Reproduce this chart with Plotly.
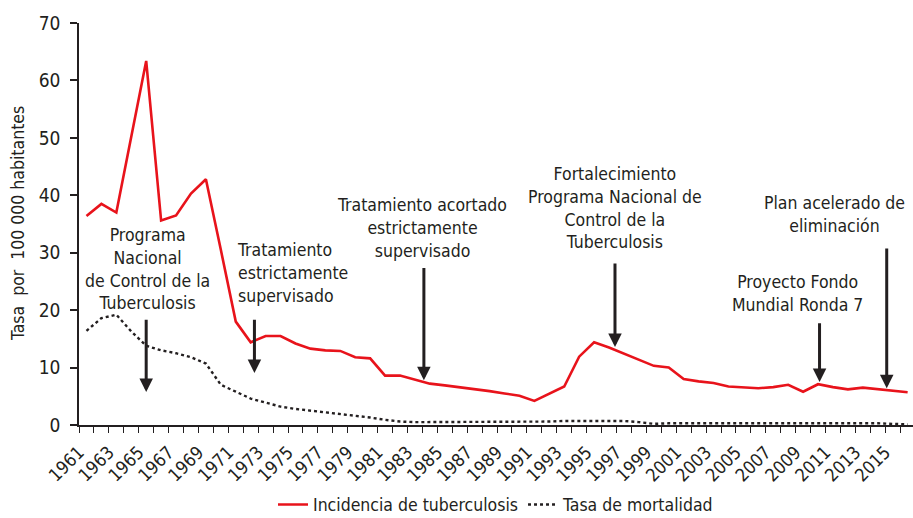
import plotly.graph_objects as go

years = list(range(1961, 2017))
incidencia = [36.4, 38.5, 37.0, 50.0, 63.4, 35.6, 36.5, 40.3, 42.8, 30.5,
              18.0, 14.4, 15.5, 15.5, 14.2, 13.3, 13.0, 12.9, 11.8, 11.6,
              8.6, 8.6, 7.9, 7.2, 6.9, 6.6, 6.3, 5.9, 5.5, 5.1,
              4.2, 5.4, 6.7, 11.9, 14.4, 13.5, 12.4, 11.3, 10.3, 10.0,
              8.0, 7.6, 7.3, 6.7, 6.5, 6.4, 6.6, 7.0, 5.8, 7.1,
              6.6, 6.2, 6.5, 6.2, 5.9, 5.7]
mortalidad = [16.4, 18.6, 19.2, 16.3, 13.8, 13.0, 12.5, 11.8, 10.7, 7.0,
              5.8, 4.6, 3.9, 3.2, 2.8, 2.5, 2.3, 2.0, 1.7, 1.3,
              0.9, 0.6, 0.5, 0.5, 0.5, 0.5, 0.5, 0.5, 0.5, 0.5,
              0.5, 0.6, 0.7, 0.7, 0.7, 0.7, 0.7, 0.5, 0.2, 0.3,
              0.3, 0.3, 0.3, 0.3, 0.3, 0.3, 0.3, 0.4, 0.4, 0.4,
              0.4, 0.4, 0.4, 0.3, 0.2, 0.1]
tick_years = list(range(1961, 2016, 2))
y_ticks = [0, 10, 20, 30, 40, 50, 60, 70]

# events: label text, text centre (year, value), arrow (year, tip value, tail value), text alignment
event_texts = ["Programa<br>Nacional<br>de Control de la<br>Tuberculosis",
               "Tratamiento<br>estrictamente<br>supervisado",
               "Tratamiento acortado<br>estrictamente<br>supervisado",
               "Fortalecimiento<br>Programa Nacional de<br>Control de la<br>Tuberculosis",
               "Proyecto Fondo<br>Mundial Ronda 7",
               "Plan acelerado de<br>eliminación"]
event_text_x = [1965.1, 1970.95, 1983.45, 1996.4, 2008.6, 2011.1]
event_text_y = [27.2, 26.5, 34.3, 37.8, 22.9, 36.6]
event_align = ["center", "left", "center", "center", "center", "center"]
arrow_x = [1965.0, 1972.25, 1983.6, 1996.4, 2010.1, 2014.6]
arrow_tip = [5.75, 9.05, 7.8, 13.6, 7.5, 6.4]
arrow_tail = [18.6, 18.6, 27.6, 28.4, 18.0, 31.0]

FONT = "Liberation Sans Narrow, Arial Narrow, DejaVu Sans Condensed, sans-serif"
INK = "#231f20"

fig = go.Figure()
fig.add_trace(go.Scatter(x=years, y=incidencia, mode="lines",
                         name="Incidencia de tuberculosis",
                         line=dict(color="#e8131b", width=2.6)))
fig.add_trace(go.Scatter(x=years, y=mortalidad, mode="lines",
                         name="Tasa de mortalidad",
                         line=dict(color=INK, width=2.4, dash="dot")))

annotations = []
for t, tx, ty, al in zip(event_texts, event_text_x, event_text_y, event_align):
    annotations.append(dict(x=tx, y=ty, xref="x", yref="y", text=t, showarrow=False,
                            xanchor="left" if al == "left" else "center",
                            yanchor="middle", align=al,
                            font=dict(family=FONT, size=17.5, color=INK)))
for ax_, tip, tail in zip(arrow_x, arrow_tip, arrow_tail):
    annotations.append(dict(x=ax_, y=tip, ax=ax_, ay=tail, xref="x", yref="y",
                            axref="x", ayref="y", text="", showarrow=True,
                            arrowhead=2, arrowsize=0.9, arrowwidth=3,
                            arrowcolor=INK))
annotations.append(dict(x=-0.0731, y=0.5, xref="paper", yref="paper",
                        text="Tasa  por  100 000 habitantes", textangle=-90,
                        showarrow=False, xanchor="center", yanchor="middle",
                        font=dict(family=FONT, size=17.5, color=INK)))

fig.update_layout(
    width=913, height=518,
    margin=dict(l=79, r=0, t=23, b=93, autoexpand=False),
    paper_bgcolor="white", plot_bgcolor="white",
    font=dict(family=FONT, size=17.5, color=INK),
    showlegend=True,
    legend=dict(orientation="h", x=0.5, xanchor="center", y=-0.198, yanchor="middle",
                font=dict(family=FONT, size=17.5, color=INK), itemwidth=30,
                tracegroupgap=0),
    annotations=annotations,
)
fig.update_xaxes(range=[1960.5, 2016.36], tickmode="array",
                 tickvals=[y - 0.5 for y in tick_years],
                 ticktext=[str(y) for y in tick_years], tickangle=-45,
                 ticks="", showgrid=False, zeroline=False, ticklabelstandoff=8,
                 showline=True, linecolor=INK, linewidth=1.5, automargin=False,
                 tickfont=dict(family=FONT, size=18, color=INK),
                 minor=dict(tickmode="array", tickvals=[y - 0.5 for y in years] + [2016.5],
                            ticks="outside", ticklen=6, tickwidth=1.2, tickcolor=INK,
                            showgrid=False))
fig.update_yaxes(range=[0, 70], tickvals=y_ticks, ticks="outside", ticklen=7,
                 tickwidth=1.5, tickcolor=INK, showgrid=False, zeroline=False,
                 showline=True, linecolor=INK, linewidth=1.5, ticklabelstandoff=6,
                 automargin=False,
                 tickfont=dict(family=FONT, size=19, color=INK))

fig.write_html("out.html", config={"displayModeBar": False},
               post_script="document.body.style.margin='0';")
